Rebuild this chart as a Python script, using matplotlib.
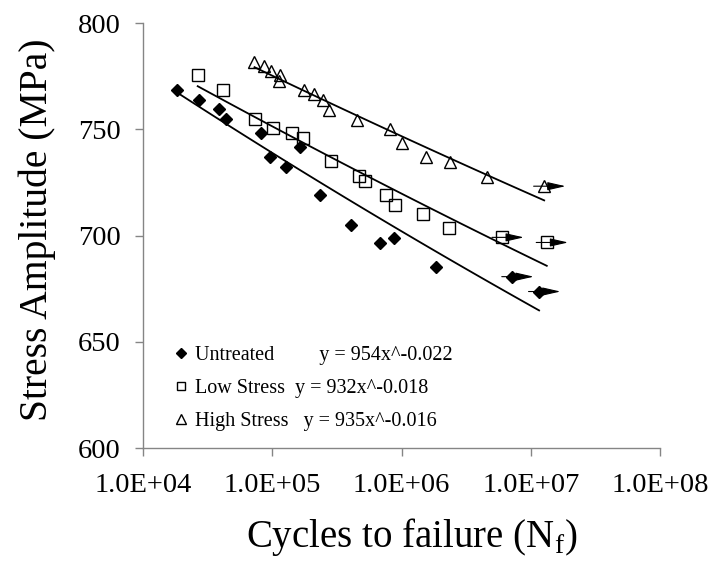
import numpy as np
import matplotlib
matplotlib.use('Agg')
import matplotlib.pyplot as plt
from matplotlib.transforms import ScaledTranslation

plt.rcParams['font.family'] = 'Liberation Serif'
plt.rcParams['mathtext.fontset'] = 'custom'
plt.rcParams['mathtext.rm'] = 'Liberation Serif'

# Untreated (failed specimens)
untreated_n = [1.84e4, 2.73e4, 3.84e4, 4.38e4, 8.22e4, 1.63e5, 9.64e4, 1.28e5,
               2.35e5, 4.09e5, 6.87e5, 8.71e5, 1.86e6]
untreated_s = [768.7, 764.0, 759.8, 755.0, 748.3, 741.7, 736.9, 732.5,
               719.2, 705.2, 696.6, 698.9, 685.4]
untreated_runout_n = [7.2e6, 1.16e7]
untreated_runout_s = [680.7, 673.7]

# Low stress
low_n = [2.65e4, 4.19e4, 7.38e4, 1.01e5, 1.42e5, 1.73e5, 2.85e5, 4.67e5,
         5.26e5, 7.61e5, 8.87e5, 1.46e6, 2.33e6]
low_s = [775.8, 768.7, 755.0, 750.8, 748.4, 746.1, 735.0, 728.3,
         725.9, 719.2, 714.6, 710.2, 703.6]
low_runout_n = [6.04e6, 1.33e7]
low_runout_s = [699.2, 696.8]

# High stress
high_n = [7.29e4, 8.71e4, 9.82e4, 1.14e5, 1.12e5, 1.77e5, 2.12e5, 2.46e5,
          2.73e5, 4.54e5, 8.22e5, 1.0e6, 1.56e6, 2.37e6, 4.61e6]
high_s = [781.7, 779.7, 777.5, 775.5, 772.8, 768.4, 766.5, 763.7,
          759.3, 754.7, 750.3, 743.7, 736.9, 734.6, 727.8]
high_runout_n = [1.27e7]
high_runout_s = [723.3]

labels = ['Untreated         y = 954x^-0.022',
          'Low Stress  y = 932x^-0.018',
          'High Stress   y = 935x^-0.016']


def main():
    fig = plt.figure(figsize=(7.11, 5.62), dpi=100)
    ax = fig.add_axes([0.2011, 0.2028, 0.7272, 0.7557])

    series = [
        (untreated_n, untreated_s, untreated_runout_n, untreated_runout_s,
         dict(marker='D', ms=6.6, mfc='black', mec='black')),
        (low_n, low_s, low_runout_n, low_runout_s,
         dict(marker='s', ms=8.4, mfc='none', mec='black', mew=1.0)),
        (high_n, high_s, high_runout_n, high_runout_s,
         dict(marker='^', ms=8.8, mfc='none', mec='black', mew=1.0)),
    ]

    handles = []
    for n, s, rn, rs, style in series:
        all_n = np.array(n + rn)
        all_s = np.array(s + rs)
        h, = ax.plot(all_n, all_s, linestyle='none', **style)
        handles.append(h)

        # power-law trend line
        k, b = np.polyfit(np.log(all_n), np.log(all_s), 1)
        xs = np.logspace(np.log10(all_n.min()), np.log10(all_n.max()), 50)
        ax.plot(xs, np.exp(b) * xs ** k, color='black', lw=1.3)

        # run-out arrows
        shift = ScaledTranslation(-7.6 / 72, 0, fig.dpi_scale_trans)
        for x, y in zip(rn, rs):
            ax.annotate('', xy=(x, y), xycoords=ax.transData + shift,
                        xytext=(23, 0), textcoords='offset points',
                        arrowprops=dict(arrowstyle='<|-,head_length=1.1,head_width=0.25',
                                        color='black', lw=0.8,
                                        shrinkA=0, shrinkB=0))

    ax.set_xscale('log')
    ax.set_xlim(1e4, 1e8)
    ax.set_ylim(600, 800)
    ax.set_xticks([1e4, 1e5, 1e6, 1e7, 1e8])
    ax.set_xticklabels(['1.0E+04', '1.0E+05', '1.0E+06', '1.0E+07', '1.0E+08'])
    ax.xaxis.set_minor_locator(plt.NullLocator())
    ax.set_yticks([600, 650, 700, 750, 800])

    for side in ['top', 'right']:
        ax.spines[side].set_visible(False)
    for side in ['left', 'bottom']:
        ax.spines[side].set_color('#858585')
        ax.spines[side].set_linewidth(1.0)
    ax.tick_params(axis='both', direction='out', length=6, width=1.0,
                   color='#858585', labelsize=20.5)
    ax.tick_params(axis='x', pad=12)
    ax.tick_params(axis='y', pad=10)

    ax.set_xlabel('Cycles to failure (N$_\\mathrm{f}$)', fontsize=28)
    ax.set_ylabel('Stress Amplitude (MPa)', fontsize=28.5)
    ax.xaxis.set_label_coords(0.52, -0.16)
    ax.yaxis.set_label_coords(-0.168, 0.515)

    ax.legend(handles, labels, loc='lower left', bbox_to_anchor=(0.062, 0.04),
              frameon=False, fontsize=14.5, markerscale=0.75, handlelength=0.6,
              handletextpad=0.4, labelspacing=0.68, borderpad=0, borderaxespad=0)

    fig.savefig('out.png', dpi=100)


if __name__ == '__main__':
    main()
